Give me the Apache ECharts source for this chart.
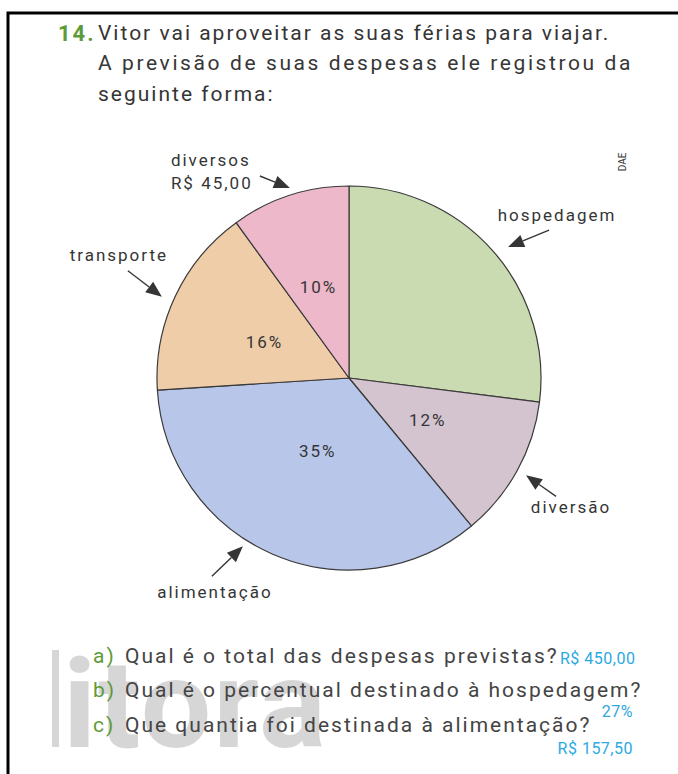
<!DOCTYPE html>
<html lang="pt">
<head>
<meta charset="UTF-8" />
<title>Despesas de viagem</title>
<script src="https://cdn.jsdelivr.net/npm/echarts@6/dist/echarts.min.js"></script>
<style>
    html, body { margin: 0; padding: 0; background: #fff; }
    #main { width: 678px; height: 774px; }
    /* o texto do livro é bem espaçado */
    #main svg text { letter-spacing: 2px; }
    #main svg text[fill="#363636"] { letter-spacing: 2.6px; }
    #main svg text[fill="#2ba9e1"] { letter-spacing: 0.5px; }
    #main svg text[fill="#343434"] { letter-spacing: 0; }
</style>
</head>
<body>
<div id="main"></div>
<script>
    // dados do gráfico (porcentagens, sentido horário a partir do topo)
    var categories = ['hospedagem', 'diversão', 'alimentação', 'transporte', 'diversos'];
    var percentValues = [27, 12, 35, 16, 10];
    var diversosValue = 45; // R$
    var sliceColors = ['#cbdbb1', '#d3c4cf', '#b8c6e9', '#f0cda9', '#ecb8ca'];

    var total = diversosValue / (percentValues[4] / 100);

    function reais(v) {
        return 'R$ ' + v.toFixed(2).replace('.', ',');
    }

    // geometria da pizza
    var cx = 349, cy = 378, R = 192;
    var FONT = 'Roboto, "Liberation Sans", sans-serif';
    var DARK = '#353535';
    var GREEN = '#5f9a3a';
    var BLUE = '#2ba9e1';

    // ajustes dos rótulos internos
    var insideOffsets = [[0, 0], [-8, -6], [8, -18], [5, 6], [0, 3]];

    // setas: fração dentro da fatia, folga da borda, vetor até a cauda, posição do texto
    var callouts = [
        { frac: 0.52, gap: 14, tail: [41, -17], text: [8, -15], align: 'center' },
        { frac: 0.5, gap: 10, tail: [30, 21], text: [15, 11], align: 'center' },
        { frac: 0.57, gap: 7, tail: [-31, 30], text: [3, 16], align: 'center' },
        { frac: 0.47, gap: 12, tail: [-34, -26], text: [-9, -16], align: 'center' },
        { frac: 0.52, gap: 7, tail: [-30, -12], text: [-89, -16], align: 'left' }
    ];

    function arrow(tip, tail) {
        var dx = tip[0] - tail[0], dy = tip[1] - tail[1];
        var len = Math.sqrt(dx * dx + dy * dy);
        var ux = dx / len, uy = dy / len;
        var hl = 16, hw = 6.5;
        var base = [tip[0] - ux * hl, tip[1] - uy * hl];
        return [
            { type: 'line', shape: { x1: tail[0], y1: tail[1], x2: base[0], y2: base[1] },
              style: { stroke: DARK, lineWidth: 1.4 } },
            { type: 'polygon', shape: { points: [tip, [base[0] - uy * hw, base[1] + ux * hw], [base[0] + uy * hw, base[1] - ux * hw]] },
              style: { fill: DARK } }
        ];
    }

    function txt(text, x, y, opt) {
        opt = opt || {};
        return {
            type: 'text', x: x, y: y, rotation: opt.rotation || 0, z: opt.z || 10,
            style: {
                text: text,
                fill: opt.color || DARK,
                font: (opt.weight || 'normal') + ' ' + (opt.size || 17) + 'px ' + FONT,
                textAlign: opt.align || 'left',
                textVerticalAlign: 'middle'
            }
        };
    }

    var graphics = [];

    // moldura
    graphics.push({ type: 'polyline', shape: { points: [[8, 774], [8, 13], [678, 13]] },
        style: { stroke: '#000', lineWidth: 3, fill: null } });

    // marca d'água
    graphics.push({ type: 'rect', shape: { x: 52, y: 650, width: 7, height: 97 }, style: { fill: '#d6d6d6' }, z: 1 });
    graphics.push(txt('itora', 63, 704, { size: 125, weight: 'bold', color: '#d6d6d6', z: 1 }));

    // enunciado
    graphics.push(txt('14.', 58, 33, { size: 22, weight: 'bold', color: GREEN }));
    graphics.push(txt('Vitor vai aproveitar as suas férias para viajar.', 98, 33, { size: 21 }));
    graphics.push(txt('A previsão de suas despesas ele registrou da', 98, 63, { size: 21, color: '#363636' }));
    graphics.push(txt('seguinte forma:', 98, 94, { size: 21 }));
    graphics.push(txt('DAE', 622, 162, { size: 10, rotation: Math.PI / 2, align: 'center', color: '#343434' }));

    // setas e rótulos externos
    var cum = 0;
    for (var i = 0; i < categories.length; i++) {
        var c = callouts[i];
        var ang = (cum + percentValues[i] * c.frac) / 100 * 2 * Math.PI;
        cum += percentValues[i];
        var r = R + c.gap;
        var tip = [cx + r * Math.sin(ang), cy - r * Math.cos(ang)];
        var tail = [tip[0] + c.tail[0], tip[1] + c.tail[1]];
        graphics = graphics.concat(arrow(tip, tail));
        var tx = tail[0] + c.text[0], ty = tail[1] + c.text[1];
        graphics.push(txt(categories[i], tx, ty, { align: c.align }));
        if (categories[i] === 'diversos') {
            graphics.push(txt(reais(diversosValue), tx, ty + 23, { align: c.align }));
        }
    }

    // perguntas
    var questions = [
        ['a)', 'Qual é o total das despesas previstas?', 656],
        ['b)', 'Qual é o percentual destinado à hospedagem?', 690],
        ['c)', 'Que quantia foi destinada à alimentação?', 725]
    ];
    questions.forEach(function (q) {
        graphics.push(txt(q[0], 93, q[2], { size: 21, color: GREEN }));
        graphics.push(txt(q[1], 125, q[2], { size: 21, color: '#444' }));
    });

    // respostas
    graphics.push(txt(reais(total), 560, 658, { size: 16, color: BLUE }));
    graphics.push(txt(percentValues[0] + '%', 633, 711, { size: 16, color: BLUE, align: 'right' }));
    graphics.push(txt(reais(total * percentValues[2] / 100), 633, 748, { size: 16, color: BLUE, align: 'right' }));

    var myChart = echarts.init(document.getElementById('main'), null, { renderer: 'svg' });

    var option = {
        backgroundColor: '#fff',
        animation: false,
        series: [{
            type: 'pie',
            center: [cx, cy],
            radius: R,
            startAngle: 90,
            clockwise: true,
            silent: true,
            itemStyle: { borderColor: '#3a3a3a', borderWidth: 1.2 },
            label: {
                position: 'inside',
                color: DARK,
                fontSize: 17,
                fontFamily: FONT,
                formatter: function (p) { return Math.round(p.percent) + '%'; }
            },
            labelLine: { show: false },
            emphasis: { disabled: true },
            data: categories.map(function (name, i) {
                return {
                    name: name,
                    value: percentValues[i],
                    itemStyle: { color: sliceColors[i] },
                    label: { show: name !== 'hospedagem', offset: insideOffsets[i] }
                };
            })
        }],
        graphic: graphics
    };

    myChart.setOption(option);
</script>
</body>
</html>
